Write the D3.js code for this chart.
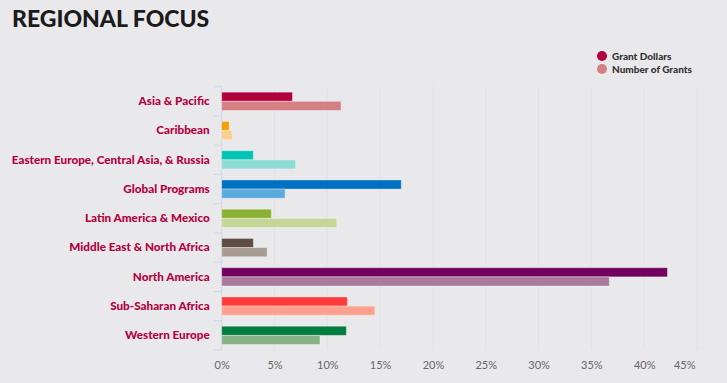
<!DOCTYPE html>
<html>
<head>
<meta charset="utf-8">
<script src="https://cdn.jsdelivr.net/npm/d3@7"></script>
<style>
  html, body { margin: 0; padding: 0; background: #e9e9ec; }
  svg { display: block; }
</style>
</head>
<body>
<svg id="chart" width="727" height="383"></svg>
<script>
const categories = ["Asia & Pacific", "Caribbean", "Eastern Europe, Central Asia, & Russia", "Global Programs", "Latin America & Mexico", "Middle East & North Africa", "North America", "Sub-Saharan Africa", "Western Europe"];
const seriesNames = ["Grant Dollars", "Number of Grants"];
const grantDollars = [6.7, 0.7, 3.0, 17.0, 4.7, 3.0, 42.2, 11.9, 11.8];
const numberOfGrants = [11.3, 1.0, 7.0, 6.0, 10.9, 4.3, 36.7, 14.5, 9.3];
const darkColors = ["#b3003c", "#f4a000", "#00c4b4", "#0070c0", "#8bb133", "#5e4c45", "#72005c", "#ff3a3a", "#007c3e"];
const lightColors = ["#d47f83", "#f8cf90", "#8fdcd6", "#5aaadb", "#c6d697", "#a69b92", "#a97a9b", "#ffa08f", "#87b185"];
const legendColors = ["#b3003c", "#d47f83"];
const xTicks = [0, 5, 10, 15, 20, 25, 30, 35, 40, 45];

(function () {
const svg = d3.select("#chart");
svg.append("rect").attr("width", 727).attr("height", 383).attr("fill", "#e9e9ec");

const pLeft = 221.7, pRight = 697, pTop = 86.7, pBottom = 350;
const x = d3.scaleLinear().domain([0, 45]).range([pLeft, pRight]);
const y = d3.scaleBand().domain(categories).range([pTop, pBottom]).paddingInner(0.375).paddingOuter(0.1875);
const sub = d3.scaleBand().domain([0, 1]).range([0, y.bandwidth()]);
const font = "'Lato', 'DejaVu Sans', sans-serif";

// title
svg.append("text").attr("x", 12).attr("y", 27)
  .attr("font-family", font).attr("font-weight", 900)
  .attr("font-size", 23).attr("fill", "#1b1b1b").text("REGIONAL FOCUS");

// gridlines
svg.append("g").selectAll("line").data(xTicks.slice(1)).join("line")
  .attr("x1", d => x(d)).attr("x2", d => x(d)).attr("y1", pTop).attr("y2", pBottom)
  .attr("stroke", "#e2e2e6").attr("stroke-width", 1);

// x axis
const xAxis = d3.axisBottom(x).tickValues(xTicks).tickFormat(d => d + "%").tickSize(0).tickPadding(11);
const gx = svg.append("g").attr("transform", `translate(0,${pBottom})`).call(xAxis);
gx.select(".domain").remove();
gx.selectAll("text").attr("font-family", font).attr("font-size", 11).attr("fill", "#666");
gx.selectAll(".tick").filter(d => d === 45).select("text").attr("text-anchor", "end").attr("dx", -2);

// y axis
const yTickPos = d3.range(categories.length + 1).map(i => pTop + i * y.step());
svg.append("line").attr("x1", pLeft).attr("x2", pLeft).attr("y1", pTop).attr("y2", pBottom)
  .attr("stroke", "#ccd6eb");
svg.append("g").selectAll("line").data(yTickPos).join("line")
  .attr("x1", pLeft - 8).attr("x2", pLeft).attr("y1", d => d).attr("y2", d => d).attr("stroke", "#ccd6eb");
const yAxis = d3.axisLeft(y).tickSize(0).tickPadding(12);
const gy = svg.append("g").attr("transform", `translate(${pLeft},0)`).call(yAxis);
gy.select(".domain").remove();
gy.selectAll("text").attr("font-family", font).attr("font-weight", 900)
  .attr("font-size", 11.7).attr("fill", "#b5003e");

// bars
const rows = categories.map((c, i) => ({c, i, vals: [grantDollars[i], numberOfGrants[i]]}));
const g = svg.append("g");
rows.forEach(r => {
  r.vals.forEach((v, s) => {
    g.append("rect")
      .attr("x", x(0))
      .attr("y", y(r.c) + sub(s))
      .attr("width", x(v) - x(0))
      .attr("height", sub.bandwidth())
      .attr("fill", s === 0 ? darkColors[r.i] : lightColors[r.i])
      .attr("stroke", "rgba(255,255,255,0.35)")
      .attr("stroke-width", 1);
  });
});

// legend
const lg = svg.append("g").attr("transform", "translate(602,56)");
seriesNames.forEach((n, i) => {
  lg.append("circle").attr("cx", 0).attr("cy", i * 13).attr("r", 5).attr("fill", legendColors[i]);
  lg.append("text").attr("x", 10).attr("y", i * 13 + 3.5)
    .attr("font-family", font).attr("font-weight", 900)
    .attr("font-size", 10).attr("fill", "#333").text(n);
});
})();
</script>
</body>
</html>
